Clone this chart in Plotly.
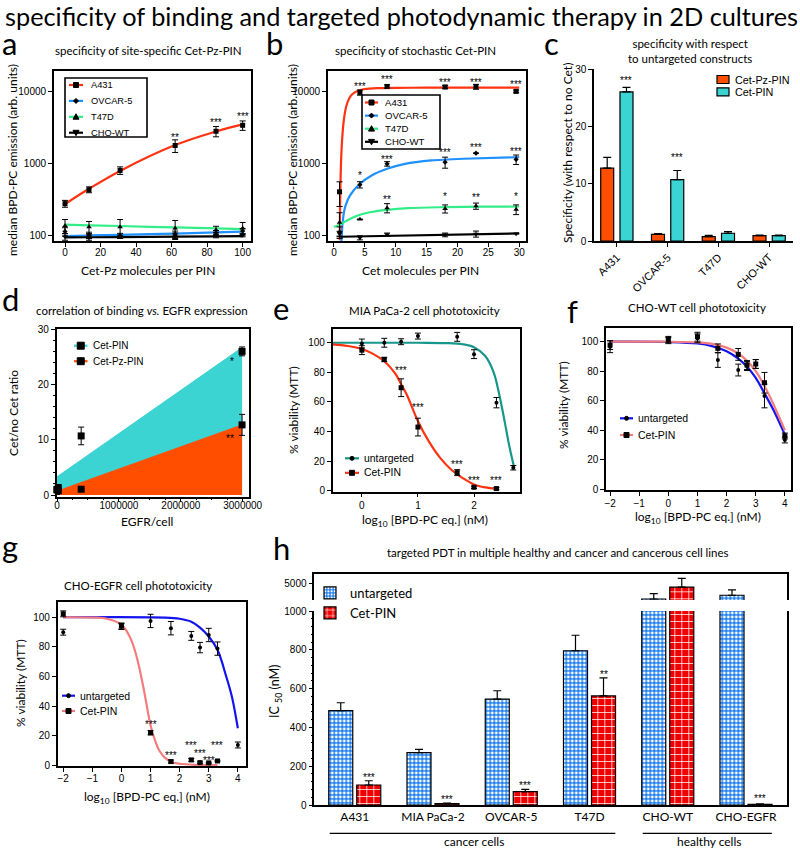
import numpy as np
import plotly.graph_objects as go

W, H = 800, 848
FT = "Lato"
FN = "Liberation Sans"

# ---------------- data ----------------
# (a) site-specific Cet-Pz-PIN
a_x = [0, 13.5, 31, 62, 85, 100]
a_a431 = [274, 428, 792, 1755, 2770, 3350]
a_a431_err = [30, 40, 95, 350, 450, 500]
a_ovcar = [112, 100, 98, 104, 108, 114]
a_ovcar_err = [15, 10, 8, 10, 8, 10]
a_t47d = [135, 130, 130, 125, 118, 125]
a_t47d_err = [30, 25, 35, 35, 15, 25]
a_cho = [95, 93, 95, 97, 100, 100]
a_cho_err = [10, 8, 5, 10, 8, 5]
a_fit_a431 = [270, 440, 780, 1780, 2750, 3450]
a_fit_ovcar = [97, 99, 101, 105, 109, 112]
a_fit_t47d = [140, 137, 134, 128, 124, 121]
a_fit_cho = [93, 93.5, 94, 95.5, 96.5, 97]
a_star_x = [62, 85, 100]
a_star_y = [2400, 3850, 4700]
a_star_t = ["**", "***", "***"]
ab_series = ["A431", "OVCAR-5", "T47D", "CHO-WT"]
log_ticks = [100, 1000, 10000]
log_ticktext = ["100", "1000", "10000"]

# (b) stochastic Cet-PIN
b_x = [0.9, 4.2, 8.6, 18, 23, 29.5]
b_a431 = [400, 9570, 11600, 11400, 11500, 9900]
b_a431_err = [150, 800, 600, 600, 900, 400]
b_ovcar = [110, 502, 978, 1030, 1375, 1126]
b_ovcar_err = [20, 50, 70, 180, 0, 170]
b_t47d = [150, 166, 239, 233, 254, 228]
b_t47d_err = [55, 0, 35, 30, 25, 35]
b_cho = [105, 92, 102, 101, 104, 105]
b_cho_err = [8, 6, 5, 6, 10, 0]
b_fit_a431_x = [0.92, 1.0, 1.1, 1.3, 1.6, 2.0, 2.5, 3.0, 4.0, 5.0, 7.0, 10, 15, 20, 30]
b_fit_a431 = [85, 300, 800, 2000, 4000, 6200, 8000, 9100, 10200, 10700, 11000, 11100, 11150, 11200, 11200]
b_fit_ovcar_x = [1.2, 1.4, 1.8, 2.6, 4.2, 6.1, 8.6, 11.5, 15.8, 21, 30]
b_fit_ovcar = [80, 150, 246, 357, 517, 675, 835, 978, 1090, 1150, 1210]
b_fit_t47d_x = [0, 1, 2, 3, 4.2, 6, 8.6, 12, 18, 24, 30]
b_fit_t47d = [130, 142, 158, 175, 192, 210, 225, 237, 245, 249, 250]
b_fit_cho_x = [1, 30]
b_fit_cho = [95, 106]
b_star_x = [4.2, 8.6, 18, 23, 29.5, 4.2, 8.6, 18, 23, 29.5, 8.6, 18, 23, 29.5]
b_star_y = [12500, 15500, 14200, 14200, 13200, 727, 1210, 1500, 1750, 1540, 330, 365, 350, 368]
b_star_t = ["***"] * 5 + ["*", "***", "***", "***", "***"] + ["**", "*", "**", "*"]

# (c) specificity vs untargeted
c_cats = ["A431", "OVCAR-5", "T47D", "CHO-WT"]
c_series = ["Cet-Pz-PIN", "Cet-PIN"]
c_pz = [12.7, 1.15, 0.78, 0.93]
c_pz_err = [1.9, 0.15, 0.2, 0.1]
c_cet = [26.0, 10.7, 1.35, 0.93]
c_cet_err = [0.8, 1.6, 0.3, 0.1]
c_star_i = [0, 1]
c_star_y = [28.4, 15.0]

# (d) correlation with EGFR expression
d_series = ["Cet-PIN", "Cet-Pz-PIN"]
d_egfr = [0, 20000, 390000, 2990000]
d_cet = [1.0, 1.35, 10.7, 26.0]
d_cet_err = [0.9, 0.3, 1.6, 0.8]
d_pz = [0.93, 0.78, 1.05, 12.7]
d_pz_err = [0.3, 0.2, 0.15, 1.9]
d_fit_x = [0, 2990000]
d_fit_cet = [3.3, 26.7]
d_fit_pz = [0.7, 12.7]
d_star_x = [2830000, 2790000]
d_star_y = [24.6, 10.6]
d_star_t = ["*", "**"]

# (e) MIA PaCa-2
tox_series = ["untargeted", "Cet-PIN"]
e_x = [0, 0.4, 0.7, 1.0, 1.7, 2.0, 2.4, 2.7]
e_unt = [99.5, 100, 100.7, 104.5, 104, 92.3, 59.5, 15.5]
e_unt_err = [3, 3, 2, 2, 3, 3, 3.5, 1.5]
e_cet_x = [0, 0.4, 0.7, 1.0, 1.7, 2.0, 2.4]
e_cet = [95, 88.7, 69.6, 43, 12.2, 2.3, 1.4]
e_cet_err = [3, 1.5, 6, 6, 2, 0.8, 0.8]
e_fit_unt_x = [-0.52, 1.0, 1.5, 1.8, 2.0, 2.2, 2.35, 2.45, 2.55, 2.63, 2.72]
e_fit_unt = [100, 100, 99.8, 99, 97, 91, 80, 65, 46, 30, 15]
e_fit_cet_x = [-0.52, -0.25, 0, 0.2, 0.4, 0.6, 0.7, 0.8, 1.0, 1.2, 1.4, 1.6, 1.8, 2.0, 2.2, 2.4]
e_fit_cet = [98.9, 97.8, 95.8, 92.5, 87.5, 79, 72, 65, 47, 33, 22, 14, 8.5, 4.2, 2.2, 1.2]
e_star_x = [0.7, 1.0, 1.7, 2.0, 2.4]
e_star_y = [82.7, 57.9, 19, 8.3, 8.3]

# (f) CHO-WT
f_x = [-2, 0, 1, 1.7, 2.4, 2.7, 3.0, 3.3, 4.0]
f_unt = [96.6, 100.7, 102.3, 87.6, 80.8, 83.5, 84.9, 63.2, 33.4]
f_unt_err = [4, 2, 3, 5, 4, 3, 3, 8, 2]
f_cet = [97.7, 101.6, 103.4, 95.5, 91.4, 84.2, 84.9, 72.2, 36.1]
f_cet_err = [3, 2, 3, 3, 4, 3, 3, 7, 2]
f_fit_x = [-2, 0, 1, 1.5, 2.0, 2.4, 2.7, 3.0, 3.3, 3.6, 4.0]
f_fit_unt = [100, 99.8, 98.8, 97, 93.5, 88.5, 83, 75.5, 65, 54, 37]
f_fit_cet = [100, 100, 99.5, 98.5, 96, 92, 87, 80, 70, 58, 40]

# (g) CHO-EGFR
g_x = [-2, 0, 1, 1.7, 2.4, 2.7, 3.0, 3.3, 4.0]
g_unt = [89.9, 93.7, 97.5, 92.6, 87.4, 79.5, 88, 78.8, 13.7]
g_unt_err = [2, 2, 4.5, 4.5, 3, 3.5, 4.5, 4.5, 2]
g_cet_x = [-2, 0, 1, 1.7, 2.4, 2.7, 3.0, 3.3]
g_cet = [102.3, 94.1, 22, 2.5, 3.6, 1.8, 1.6, 2.9]
g_cet_err = [2, 2, 1.5, 1, 1, 0.5, 0.5, 0.5]
g_fit_unt_x = [-2, 1.5, 2.0, 2.4, 2.7, 3.0, 3.3, 3.6, 3.8, 4.0]
g_fit_unt = [100, 99.8, 99, 97, 93, 87, 78, 60, 46, 25]
g_fit_cet_x = [-2, -1, -0.5, 0, 0.2, 0.35, 0.5, 0.6, 0.7, 0.8, 0.9, 1.0, 1.15, 1.3, 1.5, 1.75, 2.0, 2.5, 3.3]
g_fit_cet = [100, 99.8, 99, 95, 90, 84, 75, 67, 58, 48, 37, 27, 17, 10, 5, 2, 1, 0.3, 0.1]
g_star_x = [1.0, 1.7, 2.4, 2.7, 3.0, 3.3]
g_star_y = [28.8, 8.1, 14.4, 9, 4.5, 14.4]

# (h) IC50
h_cats = ["A431", "MIA PaCa-2", "OVCAR-5", "T47D", "CHO-WT", "CHO-EGFR"]
h_unt = [486, 270, 546, 795, 3120, 3580]
h_unt_err = [41, 17, 43, 80, 650, 650]
h_cet = [103, 7, 69, 562, 4590, 3.4]
h_cet_err = [22, 3, 12, 93, 1070, 2]
h_star_i = [0, 1, 2, 3, 5]
h_star_y = [150, 38, 112, 684, 46]
h_star_t = ["***", "***", "***", "**", "***"]
h_groups = [("cancer cells", 0, 3), ("healthy cells", 4, 5)]

# ---------------- helpers ----------------
def dx(l, r):
    return [l / W, r / W]


def dy(t, b):
    return [1 - b / H, 1 - t / H]


def py(y):
    return 1 - y / H


fig = go.Figure()


def curve(x, y, color, xa, ya, width=2.2, smooth=1.0):
    fig.add_trace(go.Scatter(x=x, y=y, mode="lines", xaxis=xa, yaxis=ya, showlegend=False,
                             line=dict(color=color, width=width, shape="spline", smoothing=smooth),
                             hoverinfo="skip"))


def points(x, y, err, symbol, xa, ya, size=5):
    fig.add_trace(go.Scatter(x=x, y=y, mode="markers", xaxis=xa, yaxis=ya, showlegend=False,
                             marker=dict(color="black", symbol=symbol, size=size),
                             error_y=dict(type="data", array=err, color="black", thickness=1, width=3),
                             cliponaxis=False))


def stars(xs, ys, ts, xa, ya, log=False, size=10):
    for xv, yv, t in zip(xs, ys, ts):
        fig.add_annotation(x=xv, y=(np.log10(yv) if log else yv), xref=xa, yref=ya, text=t,
                           showarrow=False, font=dict(family=FN, size=size, color="black"),
                           yanchor="middle", yshift=-2)


MARKER_PATHS = {
    "diamond": "M0,{s} L{s},0 L0,-{s} L-{s},0 Z",
    "triangle-up": "M-{s},-{t} L{s},-{t} L0,{s} Z",
    "triangle-down": "M-{s},{t} L{s},{t} L0,-{s} Z",
}


def key_marker(cx, cy, symbol, size, color="black", line_color="black"):
    common = dict(xref="paper", yref="paper", xsizemode="pixel", ysizemode="pixel",
                  xanchor=cx / W, yanchor=py(cy), layer="above", fillcolor=color,
                  line=dict(color=line_color, width=1))
    h = size / 2
    if symbol == "square":
        fig.add_shape(type="rect", x0=-h, x1=h, y0=-h, y1=h, **common)
    elif symbol == "circle":
        fig.add_shape(type="circle", x0=-h, x1=h, y0=-h, y1=h, **common)
    else:
        fig.add_shape(type="path", path=MARKER_PATHS[symbol].format(s=h, t=h * 0.8), **common)


def legend_box(names, colors, symbols, sizes, y0, step, lx0, lx1, tx, fsize, box=None, kind="line"):
    if box is not None:
        l, t, r, b = box
        fig.add_shape(type="rect", xref="paper", yref="paper", x0=l / W, x1=r / W, y0=py(b), y1=py(t),
                      line=dict(color="black", width=1.6), fillcolor="white", layer="above")
    for i, (n, c, s, sz) in enumerate(zip(names, colors, symbols, sizes)):
        yy = y0 + i * step
        if kind == "line":
            fig.add_shape(type="line", xref="paper", yref="paper", x0=lx0 / W, x1=lx1 / W,
                          y0=py(yy), y1=py(yy), line=dict(color=c, width=2.2), layer="above")
            key_marker((lx0 + lx1) / 2, yy, s, sz)
        else:
            fig.add_shape(type="rect", xref="paper", yref="paper", x0=lx0 / W, x1=lx1 / W,
                          y0=py(yy + 4), y1=py(yy - 4), line=dict(color="black", width=1.2),
                          fillcolor=c, layer="above")
        fig.add_annotation(x=tx / W, y=py(yy), xref="paper", yref="paper", text=n, showarrow=False,
                           xanchor="left", yanchor="middle", font=dict(family=FN, size=fsize, color="black"))


RED = "#FF3311"
BLUE = "#1E90FF"
GREEN = "#33EE88"
ORANGE = "#FF4E00"
CYAN = "#3CD3D3"
TEAL = "#17978A"
DBLUE = "#1414EE"
SALMON = "#F47C7C"
AB_COLORS = [RED, BLUE, GREEN, "black"]
AB_SYMBOLS = ["square", "diamond", "triangle-up", "triangle-down"]
AB_SIZES = [5, 5, 6, 6]

# ---------- (a) ----------
for y, c in zip([a_fit_a431, a_fit_ovcar, a_fit_t47d, a_fit_cho], AB_COLORS):
    curve(a_x, y, c, "x", "y")
for y, e, s, sz in zip([a_a431, a_ovcar, a_t47d, a_cho], [a_a431_err, a_ovcar_err, a_t47d_err, a_cho_err],
                       AB_SYMBOLS, [5, 4, 5, 5]):
    points(a_x, y, e, s, "x", "y", sz)
stars(a_star_x, a_star_y, a_star_t, "x", "y", log=True)
legend_box(ab_series, AB_COLORS, AB_SYMBOLS, AB_SIZES, 85, 15.9, 69, 83, 89, 9.3, box=(65, 78, 147, 137))

# ---------- (b) ----------
curve(b_fit_a431_x, b_fit_a431, RED, "x2", "y2", smooth=0.6)
curve(b_fit_ovcar_x, b_fit_ovcar, BLUE, "x2", "y2", smooth=0.6)
curve(b_fit_t47d_x, b_fit_t47d, GREEN, "x2", "y2")
curve(b_fit_cho_x, b_fit_cho, "black", "x2", "y2")
for y, e, s, sz in zip([b_a431, b_ovcar, b_t47d, b_cho], [b_a431_err, b_ovcar_err, b_t47d_err, b_cho_err],
                       AB_SYMBOLS, [5, 4, 5, 5]):
    points(b_x, y, e, s, "x2", "y2", sz)
stars(b_star_x, b_star_y, b_star_t, "x2", "y2", log=True)
legend_box(ab_series, AB_COLORS, AB_SYMBOLS, AB_SIZES, 102.5, 13.1, 365, 378, 383, 9.6,
           box=(362, 95, 440, 149))

# ---------- (c) ----------
def ebar(err):
    return dict(type="data", array=err, arrayminus=[0] * len(err), symmetric=False,
                color="black", thickness=1.2, width=4)


fig.add_trace(go.Bar(x=c_cats, y=c_pz, name=c_series[0], xaxis="x3", yaxis="y3", showlegend=False,
                     width=0.256, offset=-0.318, error_y=ebar(c_pz_err),
                     marker=dict(color=ORANGE, line=dict(color="black", width=1.2))))
fig.add_trace(go.Bar(x=c_cats, y=c_cet, name=c_series[1], xaxis="x3", yaxis="y3", showlegend=False,
                     width=0.256, offset=0.062, error_y=ebar(c_cet_err),
                     marker=dict(color=CYAN, line=dict(color="black", width=1.2))))
stars([i + 0.19 for i in c_star_i], c_star_y, ["***"] * len(c_star_i), "x3", "y3")
legend_box(c_series, [ORANGE, CYAN], [None, None], [0, 0], 79.5, 12.4, 717, 729, 733, 10.8, kind="bar")

# ---------- (d) ----------
fig.add_trace(go.Scatter(x=d_fit_x, y=d_fit_cet, mode="lines", fill="tozeroy", fillcolor=CYAN,
                         line=dict(color=CYAN, width=1), xaxis="x4", yaxis="y4", showlegend=False))
fig.add_trace(go.Scatter(x=d_fit_x, y=d_fit_pz, mode="lines", fill="tozeroy", fillcolor=ORANGE,
                         line=dict(color=ORANGE, width=1), xaxis="x4", yaxis="y4", showlegend=False))
points(d_egfr, d_cet, d_cet_err, "square", "x4", "y4", 7)
points(d_egfr, d_pz, d_pz_err, "square", "x4", "y4", 7)
stars(d_star_x, d_star_y, d_star_t, "x4", "y4")
legend_box(d_series, [CYAN, ORANGE], ["square", "square"], [7, 7], 345.7, 15.5, 74, 87.5, 91, 10)

# ---------- (e) ----------
curve(e_fit_unt_x, e_fit_unt, TEAL, "x5", "y5")
curve(e_fit_cet_x, e_fit_cet, RED, "x5", "y5")
points(e_x, e_unt, e_unt_err, "circle", "x5", "y5", 4)
points(e_cet_x, e_cet, e_cet_err, "square", "x5", "y5", 5)
stars(e_star_x, e_star_y, ["***"] * len(e_star_x), "x5", "y5")
legend_box(tox_series, [TEAL, RED], ["circle", "square"], [4, 5], 458.3, 14.5, 345, 359, 362, 10.4)

# ---------- (f) ----------
curve(f_fit_x, f_fit_unt, DBLUE, "x6", "y6")
curve(f_fit_x, f_fit_cet, SALMON, "x6", "y6")
points(f_x, f_unt, f_unt_err, "circle", "x6", "y6", 4)
points(f_x, f_cet, f_cet_err, "square", "x6", "y6", 5)
legend_box(tox_series, [DBLUE, SALMON], ["circle", "square"], [4, 5], 418.3, 16.7, 620, 633, 636, 10.5)

# ---------- (g) ----------
curve(g_fit_unt_x, g_fit_unt, DBLUE, "x7", "y7")
curve(g_fit_cet_x, g_fit_cet, SALMON, "x7", "y7")
points(g_x, g_unt, g_unt_err, "circle", "x7", "y7", 4)
points(g_cet_x, g_cet, g_cet_err, "square", "x7", "y7", 5)
stars(g_star_x, g_star_y, ["***"] * len(g_star_x), "x7", "y7")
legend_box(tox_series, [DBLUE, SALMON], ["circle", "square"], [4, 5], 695.7, 15.3, 62, 75, 77.5, 10.5)

# ---------- (h) ----------
UNT_M = dict(color="#1F7FEF", line=dict(color="black", width=1.2),
             pattern=dict(shape=".", fgcolor="white", bgcolor="#1F7FEF", size=4, solidity=0.4,
                          fillmode="replace"))
CET_M = dict(color="#F00000", line=dict(color="black", width=1.2),
             pattern=dict(shape="+", fgcolor="white", bgcolor="#F00000", size=7, solidity=0.2,
                          fillmode="replace"))
for xa, ya, show in (("x8", "y8", True), ("x9", "y9", False)):
    fig.add_trace(go.Bar(x=h_cats, y=h_unt, name="untargeted", xaxis=xa, yaxis=ya, legend="legend",
                         showlegend=show, width=0.307, offset=-0.3325, marker=UNT_M,
                         error_y=ebar(h_unt_err)))
    fig.add_trace(go.Bar(x=h_cats, y=h_cet, name="Cet-PIN", xaxis=xa, yaxis=ya, legend="legend",
                         showlegend=show, width=0.307, offset=0.0255, marker=CET_M,
                         error_y=ebar(h_cet_err)))
stars([i + 0.179 for i in h_star_i], h_star_y, h_star_t, "x8", "y8")
for label, i0, i1 in h_groups:
    fig.add_shape(type="line", xref="x8", yref="paper", x0=i0 - 0.32, x1=i1 + 0.33,
                  y0=py(833.3), y1=py(833.3), line=dict(color="black", width=1.2))
    fig.add_annotation(x=(i0 + i1) / 2 + 0.03, y=py(841.5), xref="x8", yref="paper", text=label,
                       showarrow=False, font=dict(family=FT, size=12, color="black"), yanchor="middle")

# ---------------- axes ----------------
def ax(domain, anchor, rng=None, **kw):
    d = dict(domain=domain, anchor=anchor, showline=True, linecolor="black", linewidth=1.5,
             mirror=True, ticks="outside", ticklen=4, tickwidth=1.2, tickcolor="black",
             tickfont=dict(family=FN, size=10, color="black"), showgrid=False, zeroline=False,
             automargin=False)
    if rng is not None:
        d["range"] = rng
    d.update(kw)
    return d


LOGR = [np.log10(83), np.log10(19000)]

layout_axes = dict(
    xaxis=ax(dx(54, 251), "y", [-6.2, 104.7], tickvals=[0, 20, 40, 60, 80, 100], ticklabelstandoff=-3,
             linewidth=1.8),
    yaxis=ax(dy(71, 241), "x", LOGR, type="log", tickvals=log_ticks, ticktext=log_ticktext, linewidth=1.8),
    xaxis2=ax(dx(328, 526), "y2", [-0.97, 31.1], dtick=5, ticklabelstandoff=-3, linewidth=1.8),
    yaxis2=ax(dy(71, 241), "x2", LOGR, type="log", tickvals=log_ticks, ticktext=log_ticktext,
              linewidth=1.8),
    xaxis3=ax(dx(594, 793), "y3", [-0.45, 3.47], mirror=False, tickangle=-45,
              tickfont=dict(family=FN, size=11, color="black")),
    yaxis3=ax(dy(69, 241), "x3", [0, 30], mirror=False, tickvals=[0, 10, 20, 30]),
    xaxis4=ax(dx(56.7, 249.3), "y4", [-5400, 3107000], tickvals=[0, 1e6, 2e6, 3e6],
              tickformat="d", ticklabelstandoff=-5,
              minor=dict(dtick=250000, ticklen=2, ticks="outside", tickcolor="black")),
    yaxis4=ax(dy(329.3, 496.7), "x4", [-0.3, 30], tickvals=[0, 10, 20, 30],
              minor=dict(dtick=2, ticklen=2, ticks="outside", tickcolor="black")),
    xaxis5=ax(dx(332.7, 520), "y5", [-0.52, 2.82], tickvals=[0, 1, 2]),
    yaxis5=ax(dy(329, 491.7), "x5", [-0.7, 109.3], dtick=20),
    xaxis6=ax(dx(606, 790.7), "y6", [-2.14, 4.2], dtick=1, ticklabelstandoff=-1),
    yaxis6=ax(dy(327.7, 490), "x6", [-0.5, 109.5], dtick=20),
    xaxis7=ax(dx(57.7, 246), "y7", [-2.19, 4.28], dtick=1, ticklabelstandoff=-2),
    yaxis7=ax(dy(601.7, 766), "x7", [-0.5, 110.5], dtick=20),
    xaxis8=ax(dx(314.3, 786.7), "y8", [-0.517, 5.52], mirror=False, ticks="",
              tickfont=dict(family=FT, size=12, color="black")),
    yaxis8=ax(dy(611, 805), "x8", [0, 1000], tickvals=[0, 200, 400, 600, 800, 1000],
              minor=dict(dtick=40, ticklen=2, ticks="outside", tickcolor="black")),
    xaxis9=ax(dx(314.3, 786.7), "y9", None, matches="x8", side="top", mirror=False,
              ticks="", showticklabels=False),
    yaxis9=ax(dy(574.3, 600), "x9", [3000, 6150], tickvals=[5000]),
)

# ---------------- text annotations ----------------
def text(t, x, y, size, xanchor="center", yanchor="middle", family=FT, angle=0, **kw):
    fig.add_annotation(x=x / W, y=py(y), xref="paper", yref="paper", text=t, showarrow=False,
                       xanchor=xanchor, yanchor=yanchor, textangle=angle,
                       font=dict(family=family, size=size, color="black"), **kw)


text("specificity of binding and targeted photodynamic therapy in 2D cultures", 401, 16, 25.3)
text("specificity of site-specific Cet-Pz-PIN", 148, 50, 11.5)
text("specificity of stochastic Cet-PIN", 415, 50, 11.5)
text("specificity with respect<br>to untargeted constructs", 690, 51, 11.5)
text("correlation of binding <i>vs.</i> EGFR expression", 142, 310, 11.5)
text("MIA PaCa-2 cell phototoxicity", 424, 310, 11.5)
text("CHO-WT cell phototoxicity", 697, 307, 11.5)
text("CHO-EGFR cell phototoxicity", 138, 585, 11.5)
text("targeted PDT in multiple healthy and cancer and cancerous cell lines", 558, 552, 11.5)

# axis titles
XLOG = "log<sub>10</sub> [BPD-PC eq.] (nM)"
VIAB = "% viability (MTT)"
MED = "median BPD-PC emission (arb. units)"
text("Cet-Pz molecules per PIN", 148, 270, 12)
text(MED, 13, 160, 12, angle=-90)
text("Cet molecules per PIN", 420, 270, 12)
text(MED, 293, 160, 12, angle=-90)
text("Specificity (with respect to no Cet)", 567, 153, 12, angle=-90)
text("EGFR/cell", 147, 521, 12)
text("Cet/no Cet ratio", 13, 413, 12, angle=-90)
text(XLOG, 425, 520, 12)
text(VIAB, 294, 410, 12, angle=-90)
text(XLOG, 698, 517, 12)
text(VIAB, 563, 405, 12, angle=-90)
text(XLOG, 147, 797, 12)
text(VIAB, 20, 683, 12, angle=-90)
text("IC <sub>50</sub> (nM)", 275, 692, 12.5, angle=-90)

for letter, x, base in (("a", 0, 57), ("b", 264, 57), ("c", 542, 57), ("d", 0, 313), ("e", 271, 322),
                        ("f", 565, 325), ("g", 0, 560), ("h", 271, 562)):
    text(letter, x, base + 7, 31, xanchor="left", yanchor="bottom", height=31, valign="bottom")

fig.update_layout(width=W, height=H, margin=dict(l=0, r=0, t=0, b=0), template="none",
                  paper_bgcolor="white", plot_bgcolor="white", barmode="overlay",
                  hovermode=False, **layout_axes,
                  legend=dict(x=310 / W, y=py(578), xanchor="left", yanchor="top",
                              bgcolor="rgba(255,255,255,0)", borderwidth=0,
                              font=dict(family=FT, size=13, color="black"), tracegroupgap=0))

fig.write_html("out.html", config={"displayModeBar": False},
               post_script="document.body.style.margin='0';document.body.style.overflow='hidden';")
